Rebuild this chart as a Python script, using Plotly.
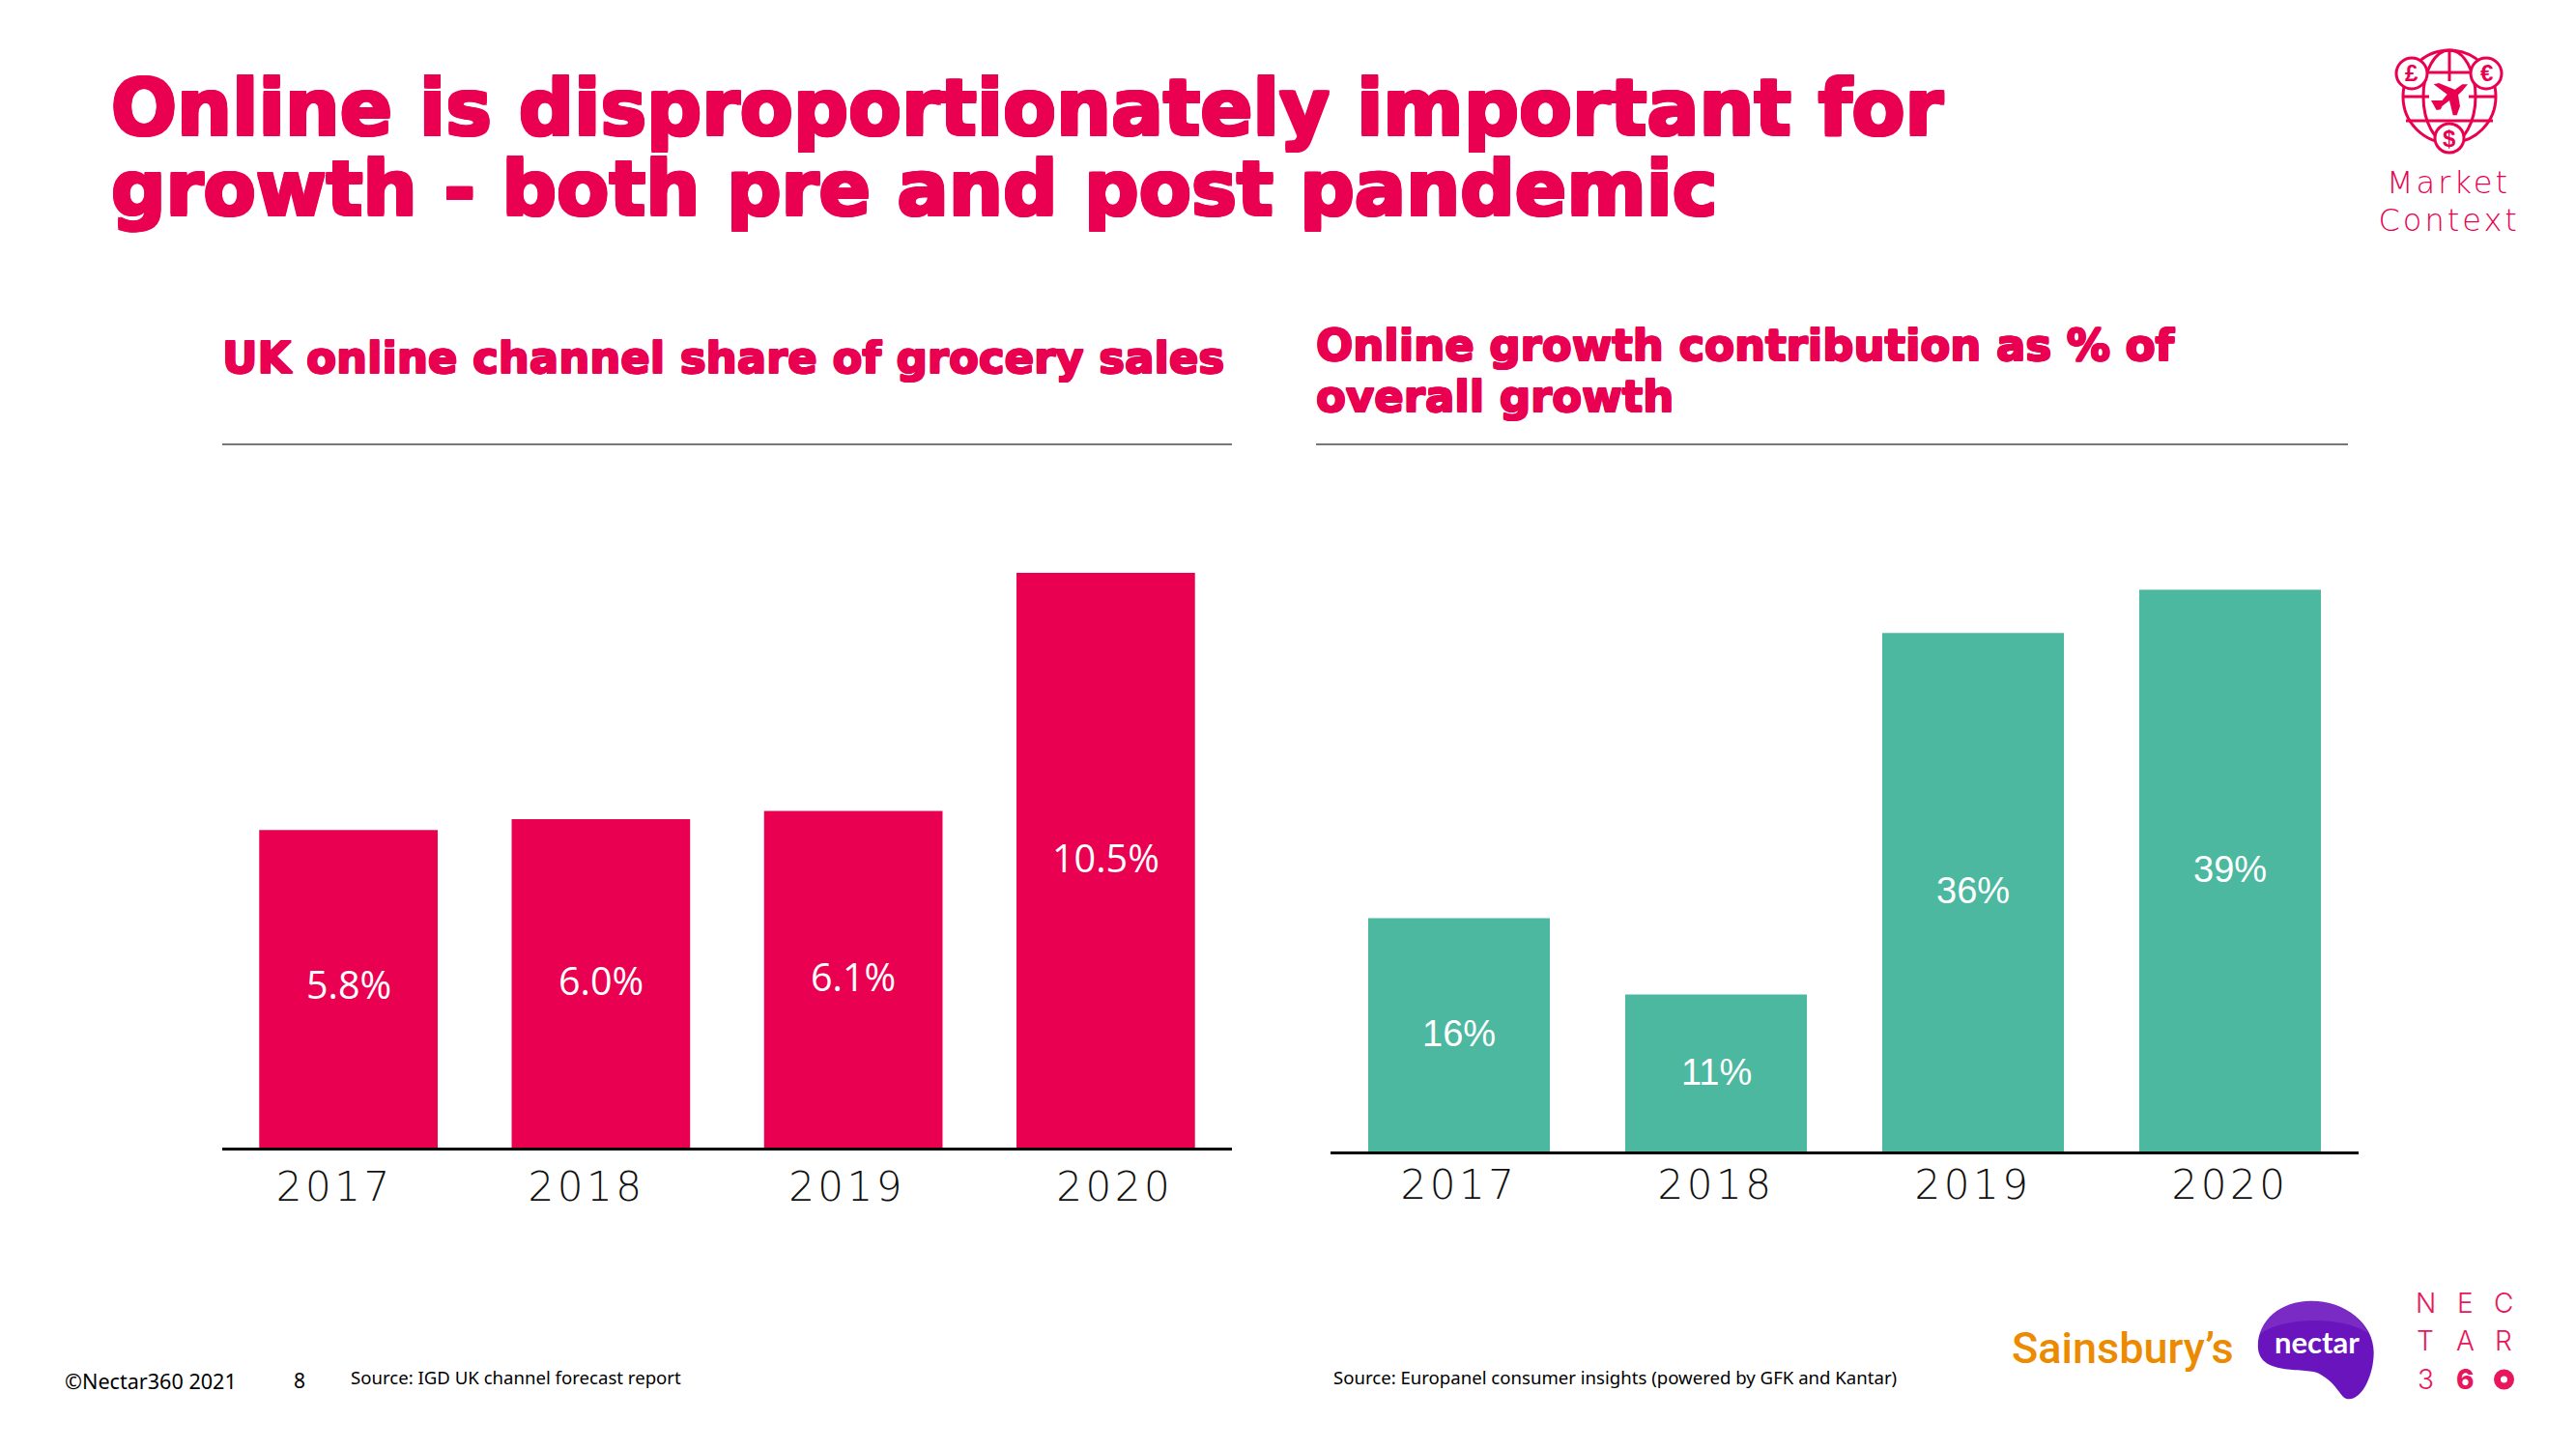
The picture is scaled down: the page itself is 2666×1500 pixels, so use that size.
import plotly.graph_objects as go

years = [2017, 2018, 2019, 2020]
share_values = [5.8, 6.0, 6.15, 10.5]
share_labels = ["5.8%", "6.0%", "6.1%", "10.5%"]
share_tick_offsets = [-0.055, -0.057, -0.025, 0.036]
share_label_drop = [160, 167, 172, 295]
growth_values = [16.2, 10.9, 36, 39]
growth_labels = ["16%", "11%", "36%", "39%"]
growth_label_drop = [120, 81, 267, 289]

RED = "#EA0050"
GREEN = "#4CB8A0"
W, H = 2666, 1500
px = lambda x: x / W
py = lambda y: 1 - y / H

fig = go.Figure()
L = dict(x0=230, x1=1275, base=1188, unit=56.67)
R = dict(x0=1377, x1=2441, base=1192, unit=14.91)
TOP = 500

fig.add_trace(go.Bar(x=years, y=share_values, marker=dict(color=RED, line_width=0), width=0.707,
                     xaxis="x", yaxis="y", hoverinfo="skip"))
fig.add_trace(go.Bar(x=years, y=growth_values, marker=dict(color=GREEN, line_width=0), width=0.707,
                     xaxis="x2", yaxis="y2", hoverinfo="skip"))

tickfont = dict(family="DejaVu Sans", size=42, color="#111111", weight=200)
axis_common = dict(showgrid=False, zeroline=False, showline=True, linecolor="#000000", linewidth=3,
                   ticks="", tickfont=tickfont, range=[2016.5, 2020.5], tickangle=0)
fig.update_layout(
    width=W, height=H, margin=dict(l=0, r=0, t=0, b=0), paper_bgcolor="white", plot_bgcolor="white",
    showlegend=False, font=dict(family="Inter"),
    xaxis=dict(domain=[px(L["x0"]), px(L["x1"])], anchor="y", ticklabelstandoff=2,
               tickvals=[y + o for y, o in zip(years, share_tick_offsets)], ticktext=[str(y) for y in years],
               **axis_common),
    yaxis=dict(domain=[py(L["base"]), py(TOP)], range=[0, (L["base"] - TOP) / L["unit"]], visible=False),
    xaxis2=dict(domain=[px(R["x0"]), px(R["x1"])], anchor="y2", tickvals=years, ticklabelstandoff=-4,
                ticktext=[str(y) for y in years], **axis_common),
    yaxis2=dict(domain=[py(R["base"]), py(TOP)], range=[0, (R["base"] - TOP) / R["unit"]], visible=False),
)

ann = []
for y, v, t, d in zip(years, share_values, share_labels, share_label_drop):
    ann.append(dict(x=y, y=v, xref="x", yref="y", text=t, showarrow=False, yanchor="middle", yshift=-d,
                    font=dict(family="Open Sans", size=39.5, color="white")))
for y, v, t, d in zip(years, growth_values, growth_labels, growth_label_drop):
    ann.append(dict(x=y, y=v, xref="x2", yref="y2", text=t, showarrow=False, yanchor="middle", yshift=-d,
                    font=dict(family="Liberation Sans", size=38, color="white")))


def text(t, x, y, size, color="#000000", family="Noto Sans", weight=400, anchor="left", shadow=None):
    f = dict(family=family, size=size, color=color, weight=weight)
    if shadow:
        f["shadow"] = shadow
    ann.append(dict(x=px(x), y=py(y), xref="paper", yref="paper", text=t, showarrow=False, xanchor=anchor,
                    yanchor="middle", font=f, xshift=0, yshift=0, borderpad=0))


def halo(r):
    return ", ".join(f"{a}px {b}px 0 {RED}" for a, b in [(r, 0), (-r, 0), (0, r), (0, -r), (r, r), (-r, -r), (r, -r), (-r, r)])


text("Online is disproportionately important for", 114, 112, 80, family="DejaVu Sans", weight=700, color=RED, shadow=halo(1.5))
text("growth - both pre and post pandemic", 114, 195, 79, family="DejaVu Sans", weight=700, color=RED, shadow=halo(1.5))
sub = dict(family="DejaVu Sans", weight=700, color=RED, shadow=halo(0.8))
text("UK online channel share of grocery sales", 229, 371, 45, **sub)
text("Online growth contribution as % of", 1361, 357, 45, **sub)
text("overall growth", 1361, 410, 45, **sub)

text("©Nectar360 2021", 66, 1429, 21.6)
text("8", 310, 1429, 21, anchor="center")
text("Source: IGD UK channel forecast report", 362, 1425, 18.6)
text("Source: Europanel consumer insights (powered by GFK and Kantar)", 1379, 1425, 18.6)

text("Market", 2534, 189, 32, color=RED, family="DejaVu Sans", weight=200, anchor="center")
text("Context", 2534, 228, 32, color=RED, family="DejaVu Sans", weight=200, anchor="center")

text("Sainsbury’s", 2197, 1395, 45, color="#EC8A00", family="Roboto", weight=500, anchor="center")

NRED = "#E8175D"
for t, cx, cy, wt in [("N", 2510, 1349, 300), ("E", 2551, 1349, 300), ("C", 2591, 1349, 300),
                      ("T", 2510, 1388, 300), ("A", 2551, 1388, 300), ("R", 2591, 1388, 300),
                      ("3", 2510, 1428, 300), ("6", 2551, 1428, 800)]:
    text(t, cx, cy, 28, color=NRED, family="Inter", weight=wt, anchor="center")

shapes = []


def line(x0, y0, x1, y1, color="#777777", w=2):
    shapes.append(dict(type="line", xref="paper", yref="paper", x0=px(x0), x1=px(x1), y0=py(y0), y1=py(y1),
                       line=dict(color=color, width=w)))


def ell(cx, cy, rx, ry, color=RED, w=3, fill=None):
    shapes.append(dict(type="circle", xref="paper", yref="paper", x0=px(cx - rx), x1=px(cx + rx), y0=py(cy - ry),
                       y1=py(cy + ry), line=dict(color=color, width=w), fillcolor=fill or "rgba(0,0,0,0)"))


def path(points, fill, closed=True):
    d = ""
    for cmd, pts in points:
        d += cmd + " ".join(f"{px(a):.6f},{py(b):.6f}" for a, b in pts) + " "
    if closed:
        d += "Z"
    shapes.append(dict(type="path", xref="paper", yref="paper", path=d, fillcolor=fill, line=dict(width=0)))


line(230, 460, 1275, 460)
line(1362, 460, 2430, 460)

# globe icon
line(2490, 75, 2580, 75, RED, 3)
line(2487, 100, 2583, 100, RED, 3)
line(2490, 125, 2580, 125, RED, 3)
line(2535, 52, 2535, 84, RED, 3)
ell(2535, 100, 48, 48)
ell(2535, 100, 27, 48)
shapes.append(dict(type="rect", xref="paper", yref="paper", x0=px(2514), x1=px(2555), y0=py(84), y1=py(120),
                   fillcolor="white", line=dict(width=0)))
zoomed = lambda pts: [(2420 + a / 3, 30 + b / 3) for a, b in pts]
plane = zoomed([(402, 172), (385, 192), (372, 205), (378, 240), (368, 268), (356, 268), (345, 222), (322, 240),
                (318, 250), (305, 252), (288, 222), (304, 222), (322, 222), (338, 203), (296, 172), (312, 168),
                (362, 188), (385, 172)])
path([("M", plane[:1])] + [("L", [p]) for p in plane[1:]], RED)
for cx, cy, r, s in [(2496, 76, 16, "£"), (2573, 76, 16, "€"), (2535, 143, 15, "$")]:
    ell(cx, cy, r, r, fill="white")
    text(s, cx, cy, 24, color=RED, family="Liberation Sans", weight=700, anchor="center")

# nectar blob
bx = lambda a: 2050 + a / 2.545
by = lambda b: 1300 + b / 3
blob = [("M", [(bx(870), by(140))]),
        ("C", [(bx(960), by(140)), (bx(1035), by(210)), (bx(1035), by(300))]),
        ("C", [(bx(1035), by(370)), (bx(1005), by(445)), (bx(970), by(445))]),
        ("C", [(bx(945), by(445)), (bx(945), by(400)), (bx(890), by(365))]),
        ("C", [(bx(850), by(345)), (bx(730), by(375)), (bx(730), by(280))]),
        ("C", [(bx(730), by(200)), (bx(790), by(140)), (bx(870), by(140))])]
path(blob, "#6A14BD")
sheen = [("M", [(bx(870), by(140))]),
         ("C", [(bx(940), by(140)), (bx(1000), by(185)), (bx(1020), by(240))]),
         ("C", [(bx(960), by(190)), (bx(800), by(185)), (bx(733), by(245))]),
         ("C", [(bx(745), by(185)), (bx(800), by(140)), (bx(870), by(140))])]
path(sheen, "rgba(255,255,255,0.10)")
text("nectar", 2398, 1389, 31, color="white", family="Lato", weight=700, anchor="center")

# 360 ring
ell(2591.5, 1428, 7, 7, color=NRED, w=7, fill="white")

fig.update_layout(annotations=ann, shapes=shapes)
post = """
document.body.style.margin='0';document.body.style.overflow='hidden';
function spaceOut(){
  document.querySelectorAll('.xtick text, .x2tick text').forEach(function(t){t.style.letterSpacing='3.5px';});
  document.querySelectorAll('.annotation-text').forEach(function(t){
    if(t.textContent==='Market'||t.textContent==='Context'){t.style.letterSpacing='3px';}
  });
}
spaceOut();setTimeout(spaceOut,0);
"""
fig.write_html("out.html", post_script=post, config={"displayModeBar": False})
